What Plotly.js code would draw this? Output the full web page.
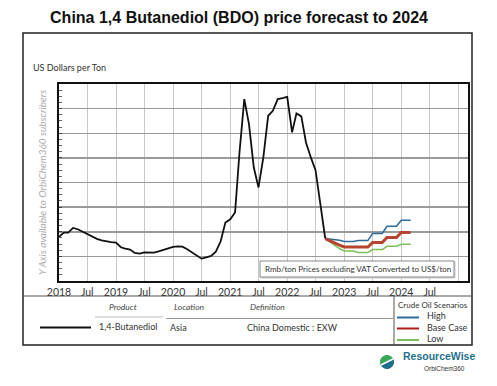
<!DOCTYPE html>
<html>
<head>
<meta charset="utf-8">
<script src="https://cdn.plot.ly/plotly-3.0.1.min.js"></script>
<style>html,body{margin:0;padding:0;background:#fff;}#chart{width:497px;height:386px;}</style>
</head>
<body>
<div id="chart"></div>
<script>
// ---- data ----
const histStart = '2018-01';
const bdoPrice = [1395,1484,1484,1578,1551,1500,1455,1405,1355,1327,1305,1290,
  1280,1185,1158,1137,1070,1056,1083,1083,1076,1103,1137,1158,
  1192,1205,1198,1144,1076,1015,954,981,1008,1097,1307,1687,
  1754,1891,3100,4194,3686,2805,2399,3009,3855,3956,4194,4215,
  4241,3517,3903,3842,3314,3009,2751,2060,1368];
const fcStart = '2022-09';
const highCase = [1362,1350,1342,1328,1301,1301,1301,1321,1321,1321,1464,1464,1464,1612,1612,1612,1734,1734,1734];
const baseCase = [1362,1315,1270,1230,1191,1191,1191,1191,1191,1191,1281,1281,1281,1382,1382,1382,1484,1484,1484];
const lowCase  = [1362,1290,1220,1160,1110,1110,1110,1077,1077,1077,1138,1138,1138,1205,1205,1205,1246,1246,1246];
const xTickVals = ['2018-01-01','2018-07-01','2019-01-01','2019-07-01','2020-01-01','2020-07-01','2021-01-01','2021-07-01','2022-01-01','2022-07-01','2023-01-01','2023-07-01','2024-01-01','2024-07-01','2025-01-01'];
const xTickText = ['2018','Jul','2019','Jul','2020','Jul','2021','Jul','2022','Jul','2023','Jul','2024','Jul',''];

function months(start, n){
  let [y,m] = start.split('-').map(Number); const out=[];
  for(let i=0;i<n;i++){ out.push(y+'-'+String(m).padStart(2,'0')+'-01'); m++; if(m>12){m=1;y++;} }
  return out;
}
const histDates = months(histStart, bdoPrice.length);
const fcDates = months(fcStart, highCase.length);

const W=497,H=386, L=59,R=468,T=84,B=281;
const px = x => (x-L)/(R-L);
const py = y => (B-y)/(B-T);
const FONT = 'Lato, "Liberation Sans", sans-serif';
const BLUE='#2f6a9a', RED='#b5452e', GREEN='#7cbf5a';

const traces = [
  {x: fcDates, y: lowCase, mode:'lines', line:{color:GREEN,width:1.5}, hoverinfo:'skip'},
  {x: fcDates, y: highCase, mode:'lines', line:{color:BLUE,width:1.5}, hoverinfo:'skip'},
  {x: fcDates, y: baseCase, mode:'lines', line:{color:RED,width:3}, hoverinfo:'skip'},
  {x: histDates, y: bdoPrice, mode:'lines', line:{color:'#111',width:1.8}, hoverinfo:'skip'}
];

function txt(x,y,text,opt){
  return Object.assign({xref:'paper',yref:'paper',x:px(x),y:py(y),text:text,showarrow:false,
    xanchor:'left',yanchor:'middle',font:{family:FONT,size:9,color:'#333'}},opt||{});
}
function line(x0,y0,x1,y1,color,w){
  return {type:'line',xref:'paper',yref:'paper',x0:px(x0),y0:py(y0),x1:px(x1),y1:py(y1),line:{color:color,width:w}};
}
function halfDisc(cx,cy,r,a0,color){
  let p='';
  for(let i=0;i<=18;i++){
    const a=(a0+i*10)*Math.PI/180;
    const xx=cx+r*Math.cos(a), yy=cy-r*Math.sin(a);
    p += (i===0?'M':'L')+px(xx)+','+py(yy)+' ';
  }
  return {type:'path',xref:'paper',yref:'paper',path:p+'Z',line:{width:0},fillcolor:color};
}

const shapes = [
  {type:'rect',xref:'paper',yref:'paper',x0:px(23),y0:py(33),x1:px(472),y1:py(345),line:{color:'#222',width:1.5},layer:'below'},
  line(23,296,472,296,'#555',1),
  line(394,296,394,345,'#555',1),
  line(95,317,163,317,'#bbb',1.2),
  line(166,318.5,393,318.5,'#999',1),
  line(40,327.5,91,327.5,'#111',2),
  line(397,317.5,419,317.5,BLUE,2),
  line(397,328.5,419,328.5,'#b01c1c',2),
  line(397,340,419,340,GREEN,2),
  {type:'rect',xref:'paper',yref:'paper',x0:px(261),y0:py(262),x1:px(455),y1:py(278),line:{color:'#ccc',width:1},fillcolor:'#e8e8e8'},
  {type:'rect',xref:'paper',yref:'paper',x0:px(260),y0:py(261),x1:px(454),y1:py(277),line:{color:'#888',width:1},fillcolor:'#fff'},
  halfDisc(387,362,7,20,'#3aa657'),
  halfDisc(387,362,7,200,'#1f6f8b'),
  line(381,365,393,359,'#fff',1.5)
];

const annotations = [
  txt(31,67,'US Dollars per Ton',{font:{family:FONT,size:9,color:'#333'}}),
  txt(42,183,'<i>Y Axis available to OrbiChem360 subscribers</i>',{xanchor:'center',textangle:-90,font:{family:FONT,size:10,color:'#aaa'}}),
  txt(357.5,269,'Rmb/ton Prices excluding VAT Converted to US$/ton',{xanchor:'center',font:{family:FONT,size:8,color:'#333'}}),
  txt(123,307,'<i>Product</i>',{xanchor:'center',font:{family:FONT,size:8.5,color:'#444'}}),
  txt(189,307,'<i>Location</i>',{xanchor:'center',font:{family:FONT,size:8.5,color:'#444'}}),
  txt(267,307,'<i>Definition</i>',{xanchor:'center',font:{family:FONT,size:8.5,color:'#444'}}),
  txt(97,326.5,'1,4-Butanediol'),
  txt(168,327.5,'Asia'),
  txt(245,327.5,'China Domestic : EXW'),
  txt(396,305,'Crude Oil Scenarios',{font:{family:FONT,size:8,color:'#333'}}),
  txt(425,315,'High'),
  txt(425,327.5,'Base Case'),
  txt(425,338.5,'Low'),
  txt(401,356,'<b>ResourceWise</b>',{font:{family:'"Liberation Sans", Arial, sans-serif',size:10.5,color:'#1f6f8b'}}),
  txt(467,368,'OrbiChem360',{xanchor:'right',font:{family:'"Liberation Sans", Arial, sans-serif',size:6.5,color:'#333'}})
];

const layout = {
  width:W,height:H,
  margin:{l:L,r:W-R,t:T,b:H-B,pad:0},
  paper_bgcolor:'#fff',plot_bgcolor:'#fff',
  showlegend:false,
  title:{text:'<b>China 1,4 Butanediol (BDO) price forecast to 2024</b>',xref:'paper',yref:'container',
    x:px(239),y:1-17/H,xanchor:'center',yanchor:'middle',
    font:{family:'"Liberation Sans", Arial, sans-serif',size:16,color:'#111'}},
  xaxis:{type:'date',range:['2018-01-01','2025-03-03'],tickmode:'array',tickvals:xTickVals,ticktext:xTickText,
    showgrid:true,gridcolor:'#c8c8c8',gridwidth:1,ticks:'',tickfont:{family:FONT,size:10.5,color:'#333'},
    showline:true,mirror:true,linecolor:'#111',linewidth:2,zeroline:false,fixedrange:true},
  yaxis:{range:[500,4500],dtick:500,tick0:500,showticklabels:false,showgrid:true,gridcolor:'#9a9a9a',gridwidth:1.5,
    ticks:'inside',ticklen:3,tickcolor:'#444',
    minor:{dtick:125,ticks:'inside',ticklen:3,tickcolor:'#666',showgrid:false},
    showline:true,mirror:true,linecolor:'#111',linewidth:2,zeroline:false,fixedrange:true},
  shapes:shapes,
  annotations:annotations
};

Plotly.newPlot('chart',traces,layout,{displayModeBar:false,staticPlot:true});
</script>
</body>
</html>
